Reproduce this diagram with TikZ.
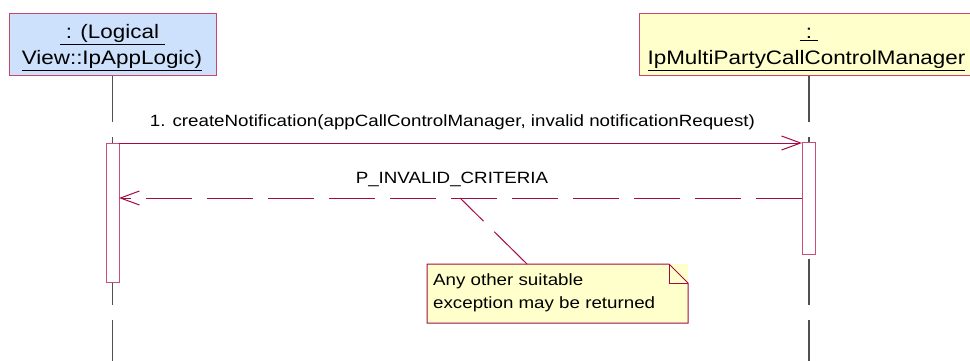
\documentclass[tikz,border=0pt]{standalone}
\usepackage{fontspec}
\setmainfont{Liberation Sans}
\newfontfamily\uml[FakeStretch=1.15]{Liberation Sans}
\usetikzlibrary{arrows.meta}
\definecolor{crim}{RGB}{165,10,70}
\definecolor{hdrline}{RGB}{200,70,110}
\definecolor{actline}{RGB}{200,80,120}
\definecolor{lifegray}{RGB}{80,80,80}
\definecolor{bluefill}{RGB}{205,225,252}
\definecolor{yelfill}{RGB}{255,255,204}
\tikzset{
  hdrbox/.style={draw=hdrline, line width=1pt, inner sep=0pt, outer sep=0pt},
  hdrtext/.style={inner sep=0pt, anchor=base, font=\uml\fontsize{19.5}{26}\selectfont},
  lifeline/.style={draw=lifegray, line width=1.3pt, dash pattern=on 46pt off 15pt},
  actbox/.style={draw=actline, fill=white, line width=1pt, inner sep=0pt, outer sep=0pt, minimum width=13pt},
  msgline/.style={draw=crim, line width=1pt, -{Straight Barb[length=19pt,width=14pt,line width=1pt]}},
  retline/.style={msgline, dash pattern=on 46pt off 15pt},
  msglabel/.style={inner sep=0pt, anchor=base, font=\uml\fontsize{16.3}{20}\selectfont},
  notebox/.style={fill=yelfill, inner sep=0pt, outer sep=0pt, minimum width=261pt, minimum height=59pt},
  noteline/.style={draw=crim, line width=1pt, dash pattern=on 46pt off 15pt},
}
\begin{document}
\begin{tikzpicture}[x=1pt,y=-1pt]
\useasboundingbox (0,0) rectangle (970,361);
% headers
\node[hdrbox, fill=bluefill, minimum width=207pt, minimum height=62pt] (A) at (112.5,45) {};
\node[hdrbox, fill=yelfill, minimum width=337pt, minimum height=62pt] (B) at (807.5,45) {};
\node[hdrtext] (A1) at (112.5,39) {\underline{\ : (Logical\ }};
\node[hdrtext] (A2) at (112,65) {\underline{View::IpAppLogic)}};
\node[hdrtext] (B1) at (809,39) {\underline{\ :\ }};
\node[hdrtext] (B2) at (806.5,65) {\underline{IpMultiPartyCallControlManager}};
% lifelines
\coordinate (Atop) at (112.5,76);
\coordinate (Abot) at (112.5,361);
\coordinate (Btop) at (809,76);
\coordinate (Bbot) at (809,361);
\draw[lifeline] (Atop) -- (Abot);
\draw[lifeline] (Btop) -- (Bbot);
% activations
\node[actbox, minimum height=139pt] (a1) at (112.5,212.5) {};
\node[actbox, minimum height=112pt] (a2) at (808.5,198) {};
% messages
\coordinate (m1s) at (119,143);
\draw[msgline] (m1s) -- (m1s -| a2.west);
\node[msglabel] (m1l) at (452.5,127) {1. createNotification(appCallControlManager, invalid notificationRequest)};
\draw[retline] (a2.west) -- (a2.west -| a1.east);
\node[msglabel] (m2l) at (452,183) {P\_INVALID\_CRITERIA};
% note
\node[notebox] (note) at (557.5,293.5) {};
\draw[draw=crim, line width=1pt]
  (note.north west) -- ([xshift=-19pt]note.north east) -- ([yshift=-19pt]note.north east)
  -- (note.south east) -- (note.south west) -- cycle;
\draw[draw=crim, line width=1pt]
  ([xshift=-19pt]note.north east) -- ([xshift=-19pt,yshift=-19pt]note.north east) -- ([yshift=-19pt]note.north east);
\node[inner sep=0pt, anchor=base west, align=left, font=\uml\fontsize{16.3}{23}\selectfont] (notetext) at (433,308)
  {Any other suitable\\exception may be returned};
\coordinate (nt) at (527,264);
\coordinate (nl) at (460,198);
\draw[noteline] (nt) -- (nl);
\end{tikzpicture}
\end{document}
